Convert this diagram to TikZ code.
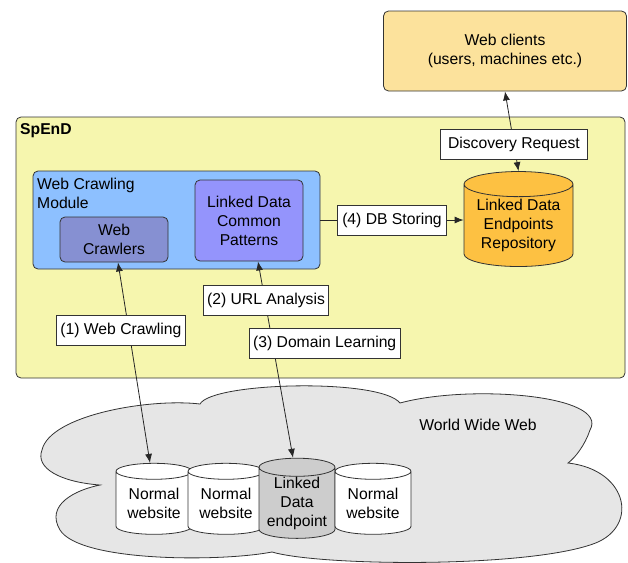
\documentclass[tikz,border=0pt]{standalone}
\usepackage{fontspec}
\setmainfont{Liberation Sans}
\usetikzlibrary{shapes.geometric,arrows.meta,positioning,calc}

\definecolor{spendyellow}{HTML}{F6F6AE}
\definecolor{moduleblue}{HTML}{8DC0FF}
\definecolor{crawlerblue}{HTML}{8690D2}
\definecolor{patternviolet}{HTML}{9494FC}
\definecolor{clientorange}{HTML}{FCE29C}
\definecolor{repoorange}{HTML}{FDC142}
\definecolor{webgray}{HTML}{E6E6E6}
\definecolor{endpointgray}{HTML}{CDCDCD}

\begin{document}
\begin{tikzpicture}[
  x=1pt, y=-1pt,
  font=\fontsize{15.7}{19}\selectfont,
  >={Latex[length=9pt,width=7pt]},
  box/.style={rectangle, rounded corners=5pt, draw=black!80, line width=0.8pt,
              align=center, inner sep=0pt},
  db/.style={cylinder, shape border rotate=90, aspect=0.3, draw=black!80,
             line width=0.8pt, align=center, inner sep=0pt},
  site/.style={db, fill=white, minimum width=76pt, minimum height=71pt},
  lbl/.style={rectangle, draw=black!80, line width=0.8pt, fill=white,
              inner xsep=4pt, inner ysep=0pt, minimum height=30pt},
  tr/.style={line width=0.8pt, draw=black!85},
]

\useasboundingbox (0,0) rectangle (628,562);

% SpEnD system with its crawling module
\node[box, fill=spendyellow, minimum width=609pt, minimum height=261pt] (spend) at (320.5,247.5) {};
\node[anchor=west, inner sep=0pt, font=\fontsize{15.7}{19}\selectfont\bfseries] (spendname) at (20,131) {SpEnD};

\node[box, fill=moduleblue, minimum width=287pt, minimum height=98pt] (module) at (176.5,220) {};
\node[anchor=north west, inner sep=0pt, align=left] (modname) at (37,178) {Web Crawling\\Module};
\node[box, fill=crawlerblue, minimum width=108pt, minimum height=45pt] (crawlers) at (114,239.5) {Web\\Crawlers};
\node[box, fill=patternviolet, minimum width=108pt, minimum height=81pt] (patterns) at (249,220.5) {Linked Data\\Common\\Patterns};

\node[db, fill=repoorange, minimum width=109pt, minimum height=95pt] (repo) at (518.5,225.5) {Linked Data\\Endpoints\\Repository};
\node[box, fill=clientorange, minimum width=243pt, minimum height=80pt] (clients) at (505,51) {Web clients\\(users, machines etc.)};

% the web
\draw[draw=black!80, line width=0.8pt, fill=webgray]
  (100,485) .. controls (60,482) and (35,468) .. (42,450)
  .. controls (50,415) and (150,398) .. (200,404)
  .. controls (212,382) and (380,378) .. (400,403)
  .. controls (470,384) and (610,395) .. (590,430)
  .. controls (585,445) and (575,458) .. (568,463)
  .. controls (630,470) and (640,530) .. (590,545)
  .. controls (520,568) and (320,566) .. (272,552)
  .. controls (220,562) and (80,562) .. (60,530)
  .. controls (45,505) and (75,490) .. (100,485) -- cycle;
\node (www) at (478,425) {World Wide Web};

\node[site] (site1) at (154,503) {Normal\\website};
\node[site] (site2) at (226,503) {Normal\\website};
\node[site, fill=endpointgray] (endpoint) at (297,503) {Linked\\Data\\endpoint};
\node[site] (site3) at (373,503) {Normal\\website};

% connectors
\draw[tr, <->] ([xshift=4pt]crawlers.south) -- node[lbl, pos=0.34, xshift=-8pt]{(1) Web Crawling} ([xshift=-4pt]site1.north);
\draw[tr, <->] ([xshift=9pt]patterns.south) --
  node[lbl, pos=0.2, xshift=1pt]{(2) URL Analysis}
  node[lbl, pos=0.42, xshift=52pt]{(3) Domain Learning} ([xshift=-4pt]endpoint.north);
\draw[tr, ->] (module.east) -- node[lbl, inner xsep=5pt]{(4) DB Storing} (repo.west |- module.east);
\draw[tr, <->] (repo.north) -- node[lbl, pos=0.34, inner xsep=8pt]{Discovery Request} (clients.south);

\end{tikzpicture}
\end{document}
